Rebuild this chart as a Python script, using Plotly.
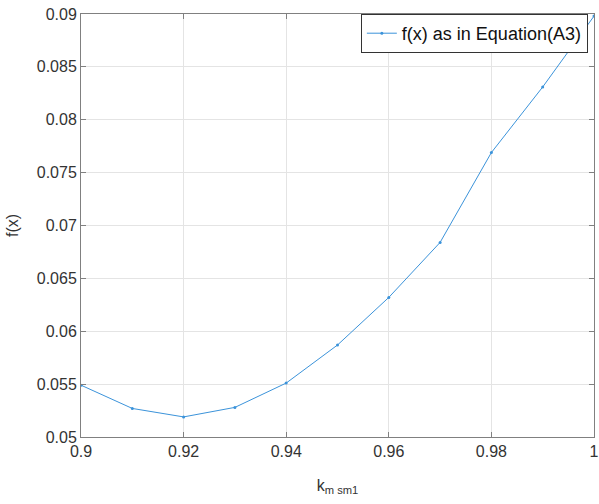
import plotly.graph_objects as go

x_vals = [0.90, 0.91, 0.92, 0.93, 0.94, 0.95, 0.96, 0.97, 0.98, 0.99, 1.00]
f_vals = [0.0549, 0.0527, 0.0519, 0.0528, 0.0551, 0.0587, 0.0632, 0.0684, 0.0769, 0.0831, 0.0898]
x_ticks = [0.9, 0.92, 0.94, 0.96, 0.98, 1.0]
x_tick_text = ["0.9", "0.92", "0.94", "0.96", "0.98", "1"]
y_ticks = [0.05, 0.055, 0.06, 0.065, 0.07, 0.075, 0.08, 0.085, 0.09]
y_tick_text = ["0.05", "0.055", "0.06", "0.065", "0.07", "0.075", "0.08", "0.085", "0.09"]

line_color = "#3b93da"
font_fam = "Liberation Sans, Arial, sans-serif"

fig = go.Figure()
fig.add_trace(go.Scatter(
    x=x_vals, y=f_vals, mode="lines+markers",
    line=dict(color=line_color, width=1),
    marker=dict(size=3, color=line_color),
    name="f(x) as in Equation(A3)",
))

axis_common = dict(
    showline=True, linecolor="#808080", linewidth=1, mirror="ticks",
    ticks="inside", ticklen=5, tickcolor="#808080",
    showgrid=True, gridcolor="#e4e4e4", gridwidth=1,
    zeroline=False, automargin=False, ticklabeloverflow="allow",
    tickfont=dict(family=font_fam, size=16, color="#333333"),
)

fig.update_xaxes(
    range=[0.9, 1.0], tickvals=x_ticks, ticktext=x_tick_text,
    title=dict(text="k<sub>m sm1</sub>", font=dict(family=font_fam, size=16, color="#333333"), standoff=20),
    **axis_common,
)
fig.update_yaxes(
    range=[0.05, 0.09], tickvals=y_ticks, ticktext=y_tick_text,
    title=dict(text="f(x)", font=dict(family=font_fam, size=16, color="#333333"), standoff=14),
    **axis_common,
)

fig.update_layout(
    width=599, height=504,
    margin=dict(l=81, r=5, t=14, b=67),
    plot_bgcolor="white", paper_bgcolor="white",
    showlegend=True,
    legend=dict(
        x=0.988, y=1.0, xanchor="right", yanchor="top",
        bgcolor="white", bordercolor="#333333", borderwidth=1,
        font=dict(family=font_fam, size=18, color="#111111"),
        itemwidth=30, tracegroupgap=0,
    ),
)

fig.write_html(
    "out.html",
    config={"displayModeBar": False},
    post_script="document.body.style.margin='0';document.body.style.overflow='hidden';",
)
